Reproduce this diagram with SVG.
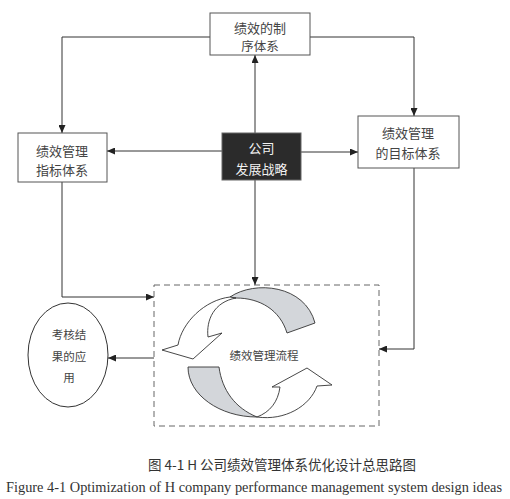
<svg xmlns="http://www.w3.org/2000/svg" width="510" height="499" viewBox="0 0 510 499">
<style>
.box{fill:#fff;stroke:#555;stroke-width:1}
.dark{fill:#2b2b2b;stroke:#666;stroke-width:1}
.t{font-family:"Noto Sans CJK SC","Noto Sans",sans-serif;font-size:13px;fill:#444;text-anchor:middle}
.tw{fill:#f2f2f2}
.ts{font-size:11.5px}
.ln{fill:none;stroke:#333;stroke-width:1}
.ar{stroke:#333;stroke-width:0.9;stroke-linejoin:round}
.en{font-family:"Liberation Serif",serif;font-size:14px;fill:#333;text-anchor:middle}
</style>
<defs>
<marker id="a" markerWidth="8" markerHeight="7" refX="8" refY="3.5" orient="auto" markerUnits="userSpaceOnUse">
<path d="M0,0 L8,3.5 L0,7 z" fill="#222"/>
</marker>
</defs>
<g id="connectors">
<path class="ln" d="M210,37 H62 V133" marker-end="url(#a)"/>
<path class="ln" d="M310,37 H414 V116" marker-end="url(#a)"/>
<path class="ln" d="M255,133 V55" marker-end="url(#a)"/>
<path class="ln" d="M222,151 H107" marker-end="url(#a)"/>
<path class="ln" d="M301,152 H358" marker-end="url(#a)"/>
<path class="ln" d="M255,180 V285" marker-end="url(#a)"/>
<path class="ln" d="M62,182 V297 H154" marker-end="url(#a)"/>
<path class="ln" d="M414,168 V349 H379" marker-end="url(#a)"/>
<path class="ln" d="M154,358 H108" marker-end="url(#a)"/>
</g>
<g id="n-top">
<rect class="box" x="210" y="13" width="100" height="42"/>
<text class="t" x="260" y="33">绩效的制</text>
<text class="t" x="260" y="51" style="font-size:12.5px">序体系</text>
</g>
<g id="n-left">
<rect class="box" x="18" y="133" width="89" height="49"/>
<text class="t" x="62" y="156">绩效管理</text>
<text class="t" x="62" y="175">指标体系</text>
</g>
<g id="n-center">
<rect class="dark" x="222" y="133" width="79" height="47"/>
<text class="t tw" x="261.5" y="153">公司</text>
<text class="t tw" x="261.5" y="174">发展战略</text>
</g>
<g id="n-right">
<rect class="box" x="358" y="116" width="101" height="52"/>
<text class="t" x="408" y="138">绩效管理</text>
<text class="t" x="408" y="158">的目标体系</text>
</g>
<g id="n-process">
<rect x="154" y="285" width="225" height="141" fill="none" stroke="#666" stroke-width="1" stroke-dasharray="6,4"/>
<path class="ar" fill="#d3d6da" d="M230,297 C255,280 305,285 315,323 L287,333 C280,310 260,298 236,298 Z"/>
<path class="ar" fill="#fff" d="M230,297 C205,300 182,322 178,345 L162,350 L193,359 L222,333 L208,337 C206,320 214,302 236,298 Z"/>
<path class="ar" fill="#d3d6da" d="M188,367 L219,367 C222,390 235,408 257,417 C220,417 188,395 188,367 Z"/>
<path class="ar" fill="#fff" d="M257,417 C285,421 310,406 317,386 L332,385 L307,368 L272,387 L280,387 C278,402 270,412 257,417 Z"/>
<text class="t ts" x="264" y="360">绩效管理流程</text>
</g>
<g id="n-result">
<ellipse cx="68" cy="355" rx="40" ry="52" fill="#fff" stroke="#333" stroke-width="1"/>
<text class="t ts" x="69" y="339">考核结</text>
<text class="t ts" x="69" y="361">果的应</text>
<text class="t ts" x="69" y="382">用</text>
</g>
<g id="caption">
<text class="t" x="282" y="470" style="font-size:13.5px;fill:#333">图 4-1  H 公司绩效管理体系优化设计总思路图</text>
<text class="en" x="254" y="492" textLength="496" lengthAdjust="spacingAndGlyphs">Figure 4-1 Optimization of H company performance management system design ideas</text>
</g>
</svg>
